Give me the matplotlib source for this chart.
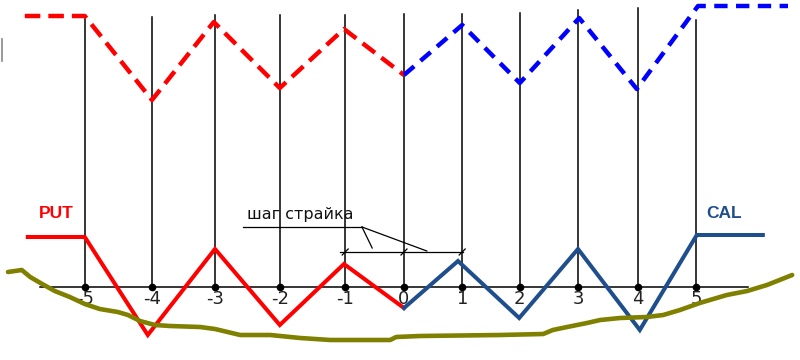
import matplotlib.pyplot as plt
import numpy as np

# strikes and where their vertical lines sit (strike units)
strikes = [-5, -4, -3, -2, -1, 0, 1, 2, 3, 4, 5]
strike_pos = [-5.32, -4.2, -3.15, -2.07, -0.98, 0.0, 0.97, 1.93, 2.9, 3.9, 4.87]
vline_top = [27.1, 27.0, 27.2, 27.2, 27.2, 27.3, 27.3, 27.4, 27.7, 27.9, 26.7]

# solid payoff lines
put_x = [-6.27, -5.32, -4.27, -3.15, -2.07, -1.0, 0.0]
put_y = [5.0, 5.0, -4.8, 3.8, -3.8, 2.3, -2.1]
cal_x = [0.0, 0.9, 1.92, 2.9, 3.93, 4.88, 5.98]
cal_y = [-2.1, 2.6, -3.1, 3.8, -4.3, 5.2, 5.2]

# dashed lines at the top
put_top_x = [-6.32, -5.32, -4.2, -3.17, -2.07, -1.0, 0.0]
put_top_y = [27.1, 27.1, 18.7, 26.5, 19.9, 25.8, 21.2]
cal_top_x = [0.0, 0.97, 1.93, 2.92, 3.88, 4.9, 6.4]
cal_top_y = [21.2, 26.2, 20.4, 26.9, 19.8, 28.1, 28.1]

# olive curve
olive_x = [-6.6, -6.37, -6.23, -6.03, -5.82, -5.57, -5.32, -5.07, -4.77, -4.6,
           -4.4, -4.15, -3.9, -3.4, -3.15, -2.73, -2.23, -1.73, -1.23, -0.23,
           -0.13, 0.27, 1.6, 2.32, 2.48, 2.72, 3.05, 3.27, 3.6, 4.05,
           4.32, 4.6, 4.93, 5.38, 5.72, 6.05, 6.47]
olive_y = [1.5, 1.7, 1.0, 0.3, -0.4, -1.0, -1.7, -2.2, -2.5, -2.8,
           -3.4, -3.8, -3.9, -4.0, -4.2, -4.8, -4.8, -5.1, -5.3, -5.3,
           -5.0, -4.9, -4.8, -4.7, -4.3, -4.0, -3.6, -3.3, -3.1, -3.0,
           -2.8, -2.3, -1.6, -0.8, -0.4, 0.2, 1.2]

RED = '#ff0000'
NAVY = '#1f4e8c'
BLUE = '#0000ff'
OLIVE = '#808000'

fig = plt.figure(figsize=(8, 3.6), dpi=100)
ax = fig.add_axes([0, 0, 1, 1])
ax.set_xlim(-6.733, 6.6)
ax.set_ylim(-7.3, 28.7)
ax.axis('off')

# grid of strikes
for xp, top in zip(strike_pos, vline_top):
    ax.plot([xp, xp], [0, top], color='black', lw=1.1, zorder=1)
ax.plot([-6.07, 5.73], [0, 0], color='black', lw=1.1, zorder=1)
ax.plot(strike_pos, [0] * len(strike_pos), 'o', color='black', ms=4.5, zorder=2)
for xp, s in zip(strike_pos, strikes):
    ax.text(xp, -1.2, str(s), ha='center', va='center', fontsize=13,
            color='#222222', zorder=2)

# payoff lines
ax.plot(put_x, put_y, color=RED, lw=2.9, solid_joinstyle='miter', zorder=3)
ax.plot(cal_x, cal_y, color=NAVY, lw=2.9, solid_joinstyle='miter', zorder=3)
ax.plot(put_top_x, put_top_y, color=RED, lw=3.2, dashes=(3.5, 1.8), zorder=3)
ax.plot(cal_top_x, cal_top_y, color=BLUE, lw=3.2, dashes=(3.0, 1.9), zorder=3)
ax.plot(olive_x, olive_y, color=OLIVE, lw=3.3, solid_capstyle='round', zorder=4)

# labels
ax.text(-5.8, 7.4, 'PUT', color=RED, fontsize=12.5, fontweight='bold',
        family='Liberation Sans', ha='center', va='center')
ax.text(5.33, 7.4, 'CAL', color=NAVY, fontsize=12.5, fontweight='bold',
        family='Liberation Sans', ha='center', va='center')

# strike step annotation
ax.text(-1.73, 7.3, 'шаг страйка', fontsize=11.5, ha='center', va='center',
        family='DejaVu Sans', color='#111111')
ax.plot([-2.68, -0.7], [6.0, 6.0], color='black', lw=0.9)
ax.plot([-0.7, -0.53], [6.0, 3.9], color='black', lw=0.9)
ax.plot([-0.7, 0.38], [6.0, 3.6], color='black', lw=0.9)
ax.plot([-1.07, 0.98], [3.5, 3.5], color='black', lw=0.9)
for xp in strike_pos[4:7]:
    ax.plot([xp - 0.05, xp + 0.05], [3.2, 3.8], color='black', lw=0.9)

# small grey mark at the left edge
ax.plot([-6.7, -6.7], [22.6, 24.8], color='#888888', lw=1.2)

fig.savefig('out.png', dpi=100)
